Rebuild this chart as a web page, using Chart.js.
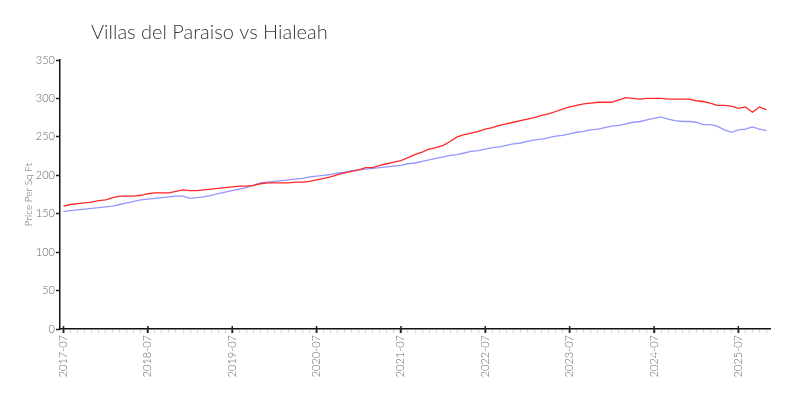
<!DOCTYPE html>
<html>
<head>
<meta charset="utf-8">
<script src="https://cdn.jsdelivr.net/npm/chart.js@4.4.1/dist/chart.umd.min.js"></script>
<style>
  html, body { margin: 0; padding: 0; background: #fff; }
  #wrap { width: 800px; height: 400px; }
</style>
</head>
<body>
<div id="wrap"><canvas id="chart"></canvas></div>
<script>
const chartTitle = 'Villas del Paraiso vs Hialeah';
const yAxisTitle = 'Price Per Sq Ft';
const startYear = 2017;
const startMonth = 7;
const monthCount = 101;

const villasValues = [
  160, 162, 163, 164, 165, 167, 168, 171, 173, 173, 173, 174,
  176, 177, 177, 177, 179, 181, 180, 180, 181, 182, 183, 184,
  185, 186, 186, 187, 189, 190, 190, 190, 190, 191, 191, 192,
  194, 196, 198, 201, 203, 205, 207, 210, 210, 213, 215, 217,
  219, 223, 227, 230, 234, 236, 239, 244, 250, 253, 255, 257,
  260, 262, 265, 267, 269, 271, 273, 275, 278, 280, 283, 286,
  289, 291, 293, 294, 295, 295, 295, 298, 301, 300, 299, 300,
  300, 300, 299, 299, 299, 299, 297, 296, 294, 291, 291, 290,
  287, 289, 282, 289, 285
];
const hialeahValues = [
  153, 154, 155, 156, 157, 158, 159, 160, 162, 164, 166, 168,
  169, 170, 171, 172, 173, 173, 170, 171, 172, 174, 176, 178,
  180, 182, 184, 187, 190, 191, 192, 193, 194, 195, 196, 198,
  199, 200, 201, 203, 204, 206, 207, 208, 209, 210, 211, 212,
  213, 215, 216, 218, 220, 222, 224, 226, 227, 229, 231, 232,
  234, 236, 237, 239, 241, 242, 244, 246, 247, 249, 251, 252,
  254, 256, 257, 259, 260, 262, 264, 265, 267, 269, 270, 272,
  274, 276, 273, 271, 270, 270, 269, 266, 266, 264, 259, 256,
  259, 260, 263, 260, 258
];

// month labels like 2017-07
const months = [];
for (let i = 0; i < monthCount; i++) {
  const m = (startMonth - 1 + i) % 12 + 1;
  const y = startYear + Math.floor((startMonth - 1 + i) / 12);
  months.push(y + '-' + String(m).padStart(2, '0'));
}

const fontFamily = 'Lato, "DejaVu Sans", sans-serif';
const labelColor = '#666';

const titlePlugin = {
  id: 'sideTitle',
  afterDraw(chart) {
    const { ctx } = chart;
    ctx.save();
    ctx.font = '300 20px ' + fontFamily;
    ctx.fillStyle = '#333';
    ctx.textBaseline = 'middle';
    ctx.fillText(chartTitle, 91, 33);
    ctx.restore();
  }
};

// major ticks on july cross the x axis line
const majorTicks = {
  id: 'majorTicks',
  afterDraw(chart) {
    const { ctx } = chart;
    const x = chart.scales.x;
    ctx.save();
    ctx.strokeStyle = '#222';
    ctx.lineWidth = 1.5;
    months.forEach((m, i) => {
      if (!m.endsWith('-07')) return;
      const px = x.getPixelForValue(i);
      ctx.beginPath();
      ctx.moveTo(px, x.top - 3);
      ctx.lineTo(px, x.top + 4);
      ctx.stroke();
    });
    ctx.restore();
  }
};

new Chart(document.getElementById('chart'), {
  type: 'line',
  data: {
    labels: months,
    datasets: [
      {
        label: 'Villas del Paraiso',
        data: villasValues,
        borderColor: 'rgb(255, 40, 40)',
        borderWidth: 1.3,
        pointRadius: 0,
        tension: 0
      },
      {
        label: 'Hialeah',
        data: hialeahValues,
        borderColor: 'rgb(150, 150, 255)',
        borderWidth: 1.3,
        pointRadius: 0,
        tension: 0
      }
    ]
  },
  options: {
    responsive: true,
    maintainAspectRatio: false,
    animation: false,
    layout: { padding: { top: 60, right: 30, left: 23, bottom: 0 } },
    plugins: {
      legend: { display: false },
      tooltip: { enabled: false },
      title: { display: false }
    },
    scales: {
      x: {
        offset: true,
        afterFit(scale) { scale.height = 71; },
        border: { display: true, color: '#111', width: 1.5 },
        grid: {
          drawOnChartArea: false,
          offset: false,
          tickLength: 4,
          tickColor: (c) => months[c.index] && months[c.index].endsWith('-07') ? '#222' : '#ddd',
          tickWidth: 1.5
        },
        ticks: {
          autoSkip: false,
          minRotation: 90,
          maxRotation: 90,
          padding: 2,
          color: labelColor,
          font: { family: fontFamily, size: 11, weight: '300' },
          callback(value, index) {
            return months[index].endsWith('-07') ? months[index] : '';
          }
        }
      },
      y: {
        min: 0,
        max: 350,
        afterFit(scale) { scale.width = 37; },
        border: { display: true, color: '#111', width: 1.5 },
        grid: {
          drawOnChartArea: false,
          tickLength: 4,
          tickColor: '#222',
          tickWidth: 1.5
        },
        ticks: {
          stepSize: 50,
          padding: 1,
          color: labelColor,
          font: { family: fontFamily, size: 11, weight: '300' }
        },
        title: {
          display: true,
          text: yAxisTitle,
          color: labelColor,
          padding: { top: 0, bottom: 2 },
          font: { family: fontFamily, size: 10, weight: '300' }
        }
      }
    }
  },
  plugins: [titlePlugin, majorTicks]
});
</script>
</body>
</html>
